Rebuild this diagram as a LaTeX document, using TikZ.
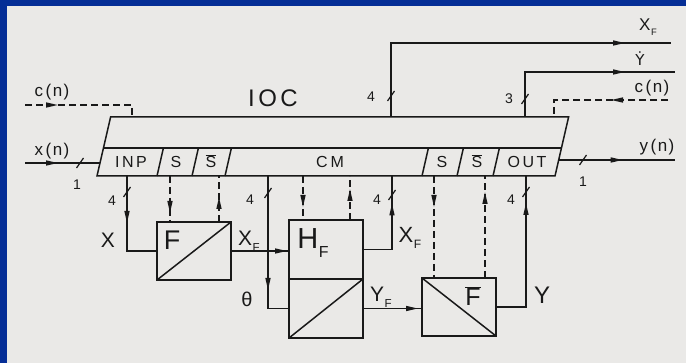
\documentclass[tikz,border=0pt]{standalone}
\usepackage{fontspec}
\setmainfont{Liberation Sans}
\newfontfamily\dejavu{DejaVu Sans}
\usetikzlibrary{arrows.meta,decorations.markings}
\definecolor{bgblue}{RGB}{5,46,150}
\definecolor{paper}{RGB}{234,233,231}
\definecolor{ink}{RGB}{25,25,25}
\newcommand\subF[2]{#1\kern0.5pt\raisebox{-0.3em}{\scalebox{0.55}{#2}}}
\newcommand\ovl[1]{\ensuremath{\overline{\mbox{#1}}}}
\newcommand\cn[1]{#1\kern2.5pt(\kern1.5pt n\kern1.5pt)}
\begin{document}
\begin{tikzpicture}[x=1pt,y=-1pt,
  wire/.style={draw=ink,line width=1.5pt},
  dwire/.style={wire,dash pattern=on 7pt off 4pt},
  arrowat/.style={postaction={decorate},decoration={markings,mark=at position #1 with {\arrow[ink]{Triangle[length=12pt,width=5pt]}}}},
  fsz/.style={font=\fontsize{#1}{#1}\selectfont},
  lbl/.style={text=ink,inner sep=0pt},
  blk/.style={draw=ink,line width=1.5pt,inner sep=0pt,outer sep=0pt,anchor=north west},
  tickmark/.pic={\draw[ink,line width=1.2pt] (-3.5,5) -- (3.5,-5);}
]
\fill[bgblue] (0,0) rectangle (686,363);
\fill[paper] (7,6) rectangle (686,363);
\useasboundingbox (0,0) rectangle (686,363);

% IOC box
\coordinate (bl) at (97,176);
\coordinate (tl) at (110.6,117);
\coordinate (tr) at (568.6,117);
\coordinate (br) at (555,176);
\coordinate (ml) at (103.4,148);
\coordinate (mr) at (561.4,148);
\draw[wire,line join=miter] (tl) -- (tr) -- (br) -- (bl) -- cycle;
\draw[wire] (ml) -- (mr);
\foreach \x [count=\i] in {157,192,225,422,457,493} {
  \coordinate (sb\i) at (\x,176);
  \coordinate (st\i) at ({\x+6.4},148);
  \draw[wire] (sb\i) -- (st\i);
}
\node[lbl,fsz=24pt] (ioc) at (273,98) {I\kern3.5pt O\kern3.5pt C};
\node[lbl,fsz=16pt] (inp) at (131,162) {I\kern2.5pt N\kern2.5pt P};
\node[lbl,fsz=16pt] (s1) at (176,162) {S};
\node[lbl,fsz=16pt] (sbt1) at (211,161) {\ovl{S}};
\node[lbl,fsz=16pt] (cm) at (330,162) {C\kern3pt M};
\node[lbl,fsz=16pt] (s2) at (442,162) {S};
\node[lbl,fsz=16pt] (sbt2) at (477,161) {\ovl{S}};
\node[lbl,fsz=16pt] (out) at (527,162) {O\kern2.5pt U\kern2.5pt T};

% inputs left
\coordinate (cnL) at (25,105);
\coordinate (cnLe) at (132,117);
\draw[dwire,arrowat=33pt] (cnL) -| (cnLe);
\node[lbl,fsz=17pt] (cnLt) at (52,92) {\cn{c}};
\coordinate (xnL) at (25,163);
\coordinate (xnLe) at (100,163);
\draw[wire,arrowat=33pt] (xnL) -- (xnLe);
\pic at (80,163) {tickmark};
\node[lbl,fsz=17pt] (xnt) at (52,151) {\cn{x}};
\node[lbl,fsz=14pt] (one1) at (77,185) {1};

% outputs top right
\coordinate (pXo) at (391,117);
\coordinate (XoE) at (671,43);
\draw[wire,arrowat=-46pt] (pXo) |- (XoE);
\pic at (391,96) {tickmark};
\node[lbl,fsz=14pt] (four0) at (371,97) {4};
\node[lbl,fsz=17pt] (xft) at (648,27) {\subF{X}{F}};
\coordinate (pYd) at (525,117);
\coordinate (YdE) at (675,72);
\draw[wire,arrowat=-50pt] (pYd) |- (YdE);
\pic at (525,99) {tickmark};
\node[lbl,fsz=14pt] (three) at (509,99) {3};
\node[lbl,fsz=15pt] (ydt) at (640,59) {\dejavu Ẏ};
\coordinate (cnR) at (668,100);
\coordinate (cnRe) at (554,117);
\draw[dwire,arrowat=57pt] (cnR) -| (cnRe);
\node[lbl,fsz=17pt] (cnRt) at (652,88) {\cn{c}};
\coordinate (ynS) at (558.7,160);
\coordinate (ynE) at (675,160);
\draw[wire,arrowat=64pt] (ynS) -- (ynE);
\pic at (583,160) {tickmark};
\node[lbl,fsz=17pt] (ynt) at (657,147) {\cn{y}};
\node[lbl,fsz=14pt] (one2) at (583,182) {1};

% blocks
\node[blk,minimum width=74pt,minimum height=58pt] (Fb) at (157,222) {};
\draw[wire] (Fb.south west) -- (Fb.north east);
\node[lbl,fsz=27pt] (Ft) at (172,240) {F};
\node[blk,minimum width=74pt,minimum height=59pt] (HF) at (289,220) {};
\node[blk,minimum width=74pt,minimum height=59pt] (HL) at (289,279) {};
\draw[wire] (HL.south west) -- (HL.north east);
\node[lbl,fsz=29pt] (HFt) at (313,243) {\subF{H}{F}};
\node[blk,minimum width=74pt,minimum height=58pt] (Fbar) at (422,278) {};
\draw[wire] (Fbar.north west) -- (Fbar.south east);
\node[lbl,fsz=25pt] (Fbt) at (473,296) {\ovl{F}};

% lower connectors
\coordinate (pX) at (127,176);
\draw[wire,arrowat=47pt] (pX) |- (Fb.west);
\pic at (127,192) {tickmark};
\node[lbl,fsz=14pt] (four1) at (112,201) {4};
\node[lbl,fsz=21pt] (Xt) at (108,240) {X};
\coordinate (pS1) at (170,176);
\draw[dwire,arrowat=37pt] (pS1) -- (pS1 |- Fb.north);
\coordinate (pSb1) at (219,176);
\draw[dwire,arrowat=25pt] (pSb1 |- Fb.north) -- (pSb1);
\draw[wire,arrowat=-2pt] (Fb.east) -- (Fb.east -| HF.west);
\node[lbl,fsz=21pt] (XFt1) at (249,241) {\subF{X}{F}};
\coordinate (pT) at (268,176);
\draw[wire,arrowat=114pt] (pT) |- (HL.west);
\pic at (268,193) {tickmark};
\node[lbl,fsz=14pt] (four2) at (250,200) {4};
\node[lbl,fsz=20pt] (tht) at (247,299) {θ};
\coordinate (pH1) at (303,176);
\draw[dwire,arrowat=31pt] (pH1) -- (pH1 |- HF.north);
\coordinate (pH2) at (350,176);
\draw[dwire,arrowat=31pt] (pH2 |- HF.north) -- (pH2);
\coordinate (pXF2) at (392,176);
\draw[wire,arrowat=75pt] (HF.east) -| (pXF2);
\pic at (392,195) {tickmark};
\node[lbl,fsz=14pt] (four3) at (377,200) {4};
\node[lbl,fsz=22pt] (XFt2) at (410,238) {\subF{X}{F}};
\draw[wire,arrowat=-4pt] (HL.east) -- (HL.east -| Fbar.west);
\node[lbl,fsz=21pt] (YFt) at (381,297) {\subF{Y}{F}};
\coordinate (pS2) at (434,176);
\draw[dwire,arrowat=31pt] (pS2) -- (pS2 |- Fbar.north);
\coordinate (pSb2) at (485,176);
\draw[dwire,arrowat=86pt] (pSb2 |- Fbar.north) -- (pSb2);
\coordinate (pY) at (526,176);
\draw[wire,arrowat=134pt] (Fbar.east) -| (pY);
\pic at (526,192) {tickmark};
\node[lbl,fsz=14pt] (four4) at (511,200) {4};
\node[lbl,fsz=24pt] (Yt) at (542,295) {Y};
\end{tikzpicture}
\end{document}
